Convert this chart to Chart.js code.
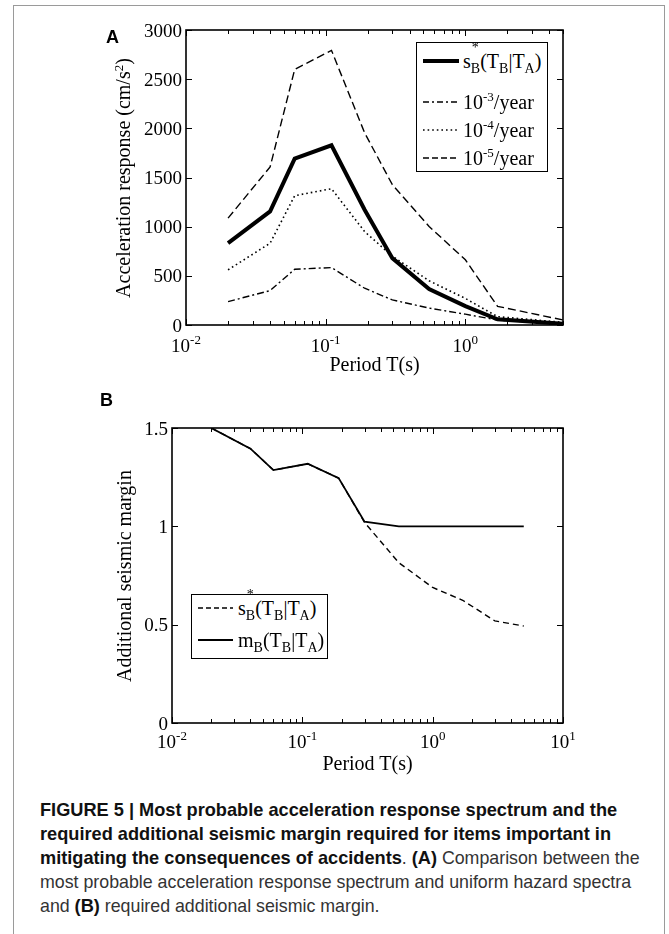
<!DOCTYPE html>
<html><head><meta charset="utf-8">
<script src="https://cdn.jsdelivr.net/npm/chart.js@4.4.1/dist/chart.umd.min.js"></script>
<style>
html,body{margin:0;padding:0;background:#fff;}
#page{position:relative;width:669px;height:934px;overflow:hidden;background:#fff;}
#frame{position:absolute;left:13px;top:5px;width:652px;height:980px;border:1px solid #9a9a9a;box-sizing:border-box;}
canvas{position:absolute;left:0;}
.t{position:absolute;white-space:nowrap;font-family:"Liberation Serif","Times New Roman",serif;color:#000;font-size:19px;line-height:19px;}
.t20{font-size:20px;line-height:20px;}
.sp{position:relative;top:-8px;font-size:13px;}
.sub{position:relative;top:5px;font-size:14px;}
.ast{position:absolute;left:1px;top:-12px;font-size:14px;}
.panel{position:absolute;font-family:"Liberation Sans",Arial,sans-serif;font-weight:bold;font-size:18px;line-height:18px;color:#000;}
.legbox{position:absolute;border:1.5px solid #000;box-sizing:border-box;background:#fff;}
svg{position:absolute;overflow:visible;}
#cap{position:absolute;left:40px;top:798px;font-family:"Liberation Sans",Arial,sans-serif;font-size:17.8px;line-height:24px;color:#333;white-space:nowrap;}
#cap b{color:#111;font-size:18.2px;}
</style></head>
<body>
<div id="page">
<div id="frame"></div>
<canvas id="cA" width="669" height="400" style="top:0"></canvas>
<canvas id="cB" width="669" height="400" style="top:380px"></canvas>
<div id="labels"></div>
<div id="cap"><b>FIGURE 5 | Most probable acceleration response spectrum and the<br>required additional seismic margin required for items important in<br>mitigating the consequences of accidents</b>. <b>(A)</b> Comparison between the<br>most probable acceleration response spectrum and uniform hazard spectra<br>and <b>(B)</b> required additional seismic margin.</div>
</div>
<script>
// ---- Data: panel A (acceleration response, cm/s^2) ----
const periodsA = [0.02, 0.04, 0.06, 0.11, 0.19, 0.3, 0.55, 1.0, 1.7, 5];
const sStarA   = [832, 1155, 1692, 1828, 1172, 680, 366, 192, 58, 12];
const uhs1e3   = [238, 350, 567, 584, 374, 255, 172, 110, 50, 10];
const uhs1e4   = [561, 832, 1315, 1386, 950, 700, 450, 270, 85, 27];
const uhs1e5   = [1087, 1607, 2599, 2793, 1954, 1427, 1002, 663, 190, 51];
const yTicksA  = [0, 500, 1000, 1500, 2000, 2500, 3000];
const yTickLabelsA = ['0', '500', '1000', '1500', '2000', '2500', '3000'];
const xExpA    = [-2, -1, 0];
// ---- Data: panel B (additional seismic margin) ----
const periodsB = [0.02, 0.04, 0.06, 0.11, 0.19, 0.3, 0.55, 1.0, 1.7, 3, 5];
const sStarB   = [1.5, 1.395, 1.286, 1.318, 1.245, 1.02, 0.815, 0.689, 0.624, 0.519, 0.493];
const marginB  = [1.5, 1.395, 1.286, 1.318, 1.245, 1.024, 1.0, 1.0, 1.0, 1.0, 1.0];
const yTicksB  = [0, 0.5, 1, 1.5];
const yTickLabelsB = ['0', '0.5', '1', '1.5'];
const xExpB    = [-2, -1, 0, 1];

const pts = (xs, ys) => xs.map((x, i) => ({x: x, y: ys[i]}));

const frameTicks = {
  id: 'frameTicks',
  afterDatasetsDraw(chart, args, opts) {
    const ctx = chart.ctx, a = chart.chartArea, x = chart.scales.x, y = chart.scales.y;
    ctx.save();
    ctx.strokeStyle = '#000';
    const seg = (x1, y1, x2, y2) => { ctx.beginPath(); ctx.moveTo(x1, y1); ctx.lineTo(x2, y2); ctx.stroke(); };
    ctx.lineWidth = 1;
    opts.yTicks.forEach(v => {
      const py = Math.round(y.getPixelForValue(v)) + 0.5;
      seg(a.left, py, a.left + 6, py);
      seg(a.right, py, a.right - 6, py);
    });
    for (let e = -2; e <= 1; e++) {
      for (let m = 1; m < 10; m++) {
        const v = m * Math.pow(10, e);
        if (v < x.min * 0.999 || v > x.max * 1.001) continue;
        const len = m === 1 ? 6 : 4;
        const px = Math.round(x.getPixelForValue(v)) + 0.5;
        seg(px, a.bottom, px, a.bottom - len);
        seg(px, a.top, px, a.top + len);
      }
    }
    ctx.lineWidth = 1.6;
    ctx.strokeRect(a.left, a.top, a.right - a.left, a.bottom - a.top);
    ctx.restore();
  }
};

function baseOpts(pad, xmax, ymax, yTicks) {
  return {
    responsive: false, animation: false, devicePixelRatio: 1,
    layout: {padding: pad},
    elements: {point: {radius: 0}, line: {tension: 0, borderJoinStyle: 'miter'}},
    plugins: {legend: {display: false}, tooltip: {enabled: false}, frameTicks: {yTicks: yTicks}},
    scales: {
      x: {type: 'logarithmic', min: 0.01, max: xmax, display: false},
      y: {type: 'linear', min: 0, max: ymax, display: false}
    }
  };
}

const chartA = new Chart(document.getElementById('cA'), {
  type: 'line',
  data: {datasets: [
    {data: pts(periodsA, uhs1e5), borderColor: '#000', borderWidth: 1.4, borderDash: [8, 4]},
    {data: pts(periodsA, uhs1e4), borderColor: '#000', borderWidth: 1.6, borderDash: [1.6, 3]},
    {data: pts(periodsA, uhs1e3), borderColor: '#000', borderWidth: 1.4, borderDash: [7, 3, 2, 3]},
    {data: pts(periodsA, sStarA), borderColor: '#000', borderWidth: 4}
  ]},
  options: baseOpts({left: 186, top: 30, right: 106, bottom: 75}, 5, 3000, yTicksA),
  plugins: [frameTicks]
});

const chartB = new Chart(document.getElementById('cB'), {
  type: 'line',
  data: {datasets: [
    {data: pts(periodsB, sStarB), borderColor: '#000', borderWidth: 1.4, borderDash: [6, 4]},
    {data: pts(periodsB, marginB), borderColor: '#000', borderWidth: 1.8}
  ]},
  options: baseOpts({left: 172, top: 48, right: 106, bottom: 57}, 10, 1.5, yTicksB),
  plugins: [frameTicks]
});

const L = document.getElementById('labels');
function put(html, x, base, align, cls, fs) {
  const d = document.createElement('div');
  d.className = 't ' + (cls || '');
  d.innerHTML = html;
  d.style.left = x + 'px';
  d.style.top = (base - 0.8375 * fs) + 'px';
  if (cls && cls.indexOf('t20') >= 0) d.style.fontSize = '20px';
  if (align === 'r') d.style.transform = 'translateX(-100%)';
  if (align === 'c') d.style.transform = 'translateX(-50%)';
  L.appendChild(d);
  return d;
}
function putRot(html, cx, cy) {
  const d = document.createElement('div');
  d.className = 't t20';
  d.innerHTML = html;
  d.style.left = cx + 'px';
  d.style.top = cy + 'px';
  d.style.transform = 'translate(-50%,-50%) rotate(-90deg)';
  L.appendChild(d);
}
function axisLabels(chart, top0, yTicks, yLabels, xExp, xBaseOff, titleOff, ytitle) {
  const a = chart.chartArea, sx = chart.scales.x, sy = chart.scales.y;
  yTicks.forEach((v, i) => put(yLabels[i], a.left - 4, top0 + sy.getPixelForValue(v) + 6.5, 'r', '', 19));
  xExp.forEach(e => put('10<span class="sp">' + e + '</span>', sx.getPixelForValue(Math.pow(10, e)), top0 + a.bottom + xBaseOff, 'c', '', 19));
  put('Period T(s)', (a.left + a.right) / 2, top0 + a.bottom + titleOff, 'c', 't20', 20);
  putRot(ytitle, 124, top0 + (a.top + a.bottom) / 2);
}
axisLabels(chartA, 0, yTicksA, yTickLabelsA, xExpA, 27, 46, 'Acceleration response (cm/s<span class="sp" style="top:-7px">2</span>)');
axisLabels(chartB, 380, yTicksB, yTickLabelsB, xExpB, 25, 47, 'Additional seismic margin');

// panel letters
function panel(txt, x, base) {
  const d = document.createElement('div');
  d.className = 'panel'; d.textContent = txt;
  d.style.left = x + 'px'; d.style.top = (base - 0.8465 * 18) + 'px';
  L.appendChild(d);
}
panel('A', 106, 43);
panel('B', 100, 406);

// legends
const SB = 's<span style="position:relative"><span class="ast">*</span><span class="sub">B</span></span>(T<span class="sub">B</span>|T<span class="sub">A</span>)';
const MB = 'm<span class="sub">B</span>(T<span class="sub">B</span>|T<span class="sub">A</span>)';
function legend(box, rows) {
  const b = document.createElement('div');
  b.className = 'legbox';
  Object.assign(b.style, {left: box[0] + 'px', top: box[1] + 'px', width: box[2] + 'px', height: box[3] + 'px'});
  L.appendChild(b);
  const ns = 'http://www.w3.org/2000/svg';
  const s = document.createElementNS(ns, 'svg');
  s.setAttribute('width', box[2]); s.setAttribute('height', box[3]);
  s.style.left = box[0] + 'px'; s.style.top = box[1] + 'px';
  rows.forEach(r => {
    const ln = document.createElementNS(ns, 'line');
    ln.setAttribute('x1', r.x1 - box[0]); ln.setAttribute('x2', r.x2 - box[0]);
    ln.setAttribute('y1', r.y - box[1]); ln.setAttribute('y2', r.y - box[1]);
    ln.setAttribute('stroke', '#000'); ln.setAttribute('stroke-width', r.w);
    if (r.dash) ln.setAttribute('stroke-dasharray', r.dash);
    s.appendChild(ln);
    put(r.html, r.tx, r.y + 7, 'l', 't20', 20);
  });
  L.appendChild(s);
}
legend([416, 42, 132, 130], [
  {y: 61, x1: 423, x2: 459, w: 4, html: SB, tx: 463},
  {y: 102, x1: 423, x2: 459, w: 1.4, dash: '6 3 2 3', html: '10<span class="sp">-3</span>/year', tx: 463},
  {y: 130, x1: 423, x2: 459, w: 1.6, dash: '1.6 3', html: '10<span class="sp">-4</span>/year', tx: 463},
  {y: 158, x1: 423, x2: 459, w: 1.4, dash: '6 3', html: '10<span class="sp">-5</span>/year', tx: 463}
]);
legend([191, 594, 137, 65], [
  {y: 608, x1: 198, x2: 233, w: 1.4, dash: '5 3', html: SB, tx: 238},
  {y: 640, x1: 198, x2: 233, w: 1.8, html: MB, tx: 238}
]);
</script>
</body></html>
